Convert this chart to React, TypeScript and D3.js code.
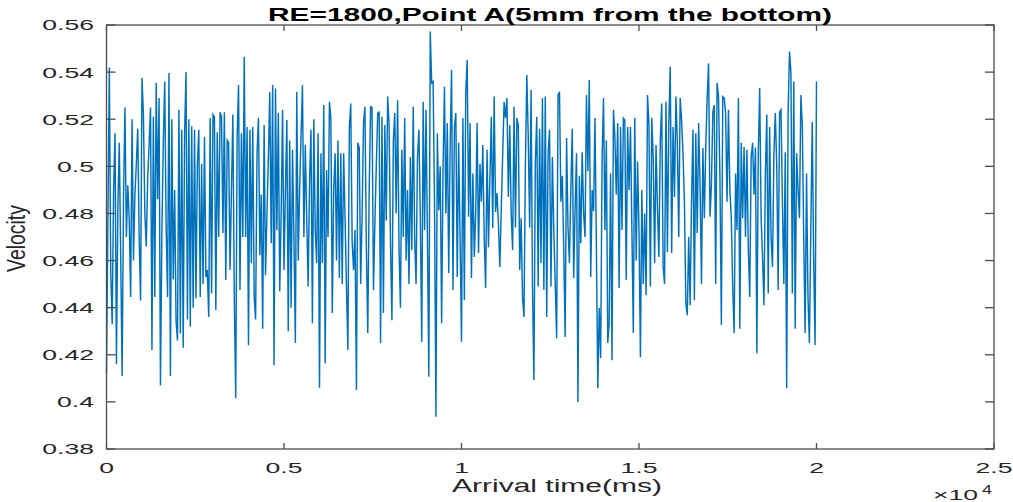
import React from "react";
import * as d3 from "d3";

// velocity samples, 40 ms apart in 2000 ms blocks
const velocity0 = [
  0.412, 0.478, 0.542, 0.455, 0.433, 0.490, 0.514, 0.416, 0.482, 0.510,
  0.462, 0.411, 0.488, 0.525, 0.470, 0.492, 0.478, 0.4445, 0.520, 0.460,
  0.488, 0.501, 0.516, 0.470, 0.443, 0.5375, 0.522, 0.480, 0.466, 0.495,
  0.509, 0.525, 0.422, 0.521, 0.4445, 0.5355, 0.486, 0.529, 0.407, 0.472,
  0.510, 0.536, 0.475, 0.4445, 0.5396, 0.411, 0.520, 0.452, 0.490, 0.434,
];
const velocity1 = [
  0.426, 0.524, 0.429, 0.5155, 0.423, 0.514, 0.540, 0.435, 0.520, 0.432,
  0.517, 0.440, 0.5155, 0.444, 0.501, 0.5155, 0.4445, 0.501, 0.450, 0.5125,
  0.453, 0.456, 0.436, 0.5205, 0.446, 0.522, 0.521, 0.439, 0.5145, 0.470,
  0.523, 0.521, 0.4717, 0.523, 0.4517, 0.511, 0.510, 0.456, 0.490, 0.522,
  0.444, 0.4016, 0.513, 0.5345, 0.4475, 0.514, 0.470, 0.5465, 0.470, 0.5167,
];
const velocity2 = [
  0.424, 0.5155, 0.459, 0.5167, 0.4445, 0.435, 0.5055, 0.5205, 0.4623, 0.488,
  0.431, 0.5175, 0.4538, 0.480, 0.504, 0.5315, 0.4675, 0.5345, 0.4156, 0.533,
  0.473, 0.5226, 0.447, 0.480, 0.524, 0.456, 0.490, 0.5197, 0.430, 0.511,
  0.440, 0.507, 0.470, 0.425, 0.5317, 0.460, 0.490, 0.513, 0.5345, 0.470,
  0.509, 0.478, 0.449, 0.494, 0.5155, 0.4334, 0.520, 0.473, 0.459, 0.514,
];
const velocity3 = [
  0.406, 0.5055, 0.459, 0.526, 0.4164, 0.4984, 0.470, 0.5274, 0.5205, 0.4377,
  0.490, 0.5055, 0.460, 0.511, 0.4526, 0.5055, 0.450, 0.5055, 0.478, 0.449,
  0.422, 0.516, 0.5267, 0.468, 0.456, 0.473, 0.405, 0.510, 0.5078, 0.450,
  0.479, 0.5184, 0.5253, 0.4657, 0.4292, 0.490, 0.5253, 0.525, 0.4475, 0.476,
  0.500, 0.5226, 0.523, 0.425, 0.521, 0.4377, 0.5175, 0.477, 0.5296, 0.5175,
];
const velocity4 = [
  0.4674, 0.4347, 0.511, 0.5226, 0.480, 0.528, 0.4657, 0.440, 0.507, 0.470,
  0.5205, 0.460, 0.490, 0.450, 0.504, 0.4645, 0.5253, 0.470, 0.450, 0.504,
  0.5155, 0.478, 0.4254, 0.5274, 0.473, 0.524, 0.470, 0.4107, 0.5572, 0.5354,
  0.536, 0.4844, 0.3937, 0.514, 0.4814, 0.500, 0.4334, 0.4984, 0.5338, 0.480,
  0.5184, 0.4547, 0.5082, 0.5409, 0.4475, 0.5167, 0.5226, 0.453, 0.510, 0.470,
];
const velocity5 = [
  0.4255, 0.5205, 0.4432, 0.5317, 0.5451, 0.4786, 0.5184, 0.4526, 0.497, 0.4615,
  0.480, 0.5184, 0.4632, 0.501, 0.485, 0.509, 0.470, 0.4483, 0.507, 0.4657,
  0.495, 0.521, 0.4738, 0.5296, 0.4806, 0.4887, 0.476, 0.4573, 0.482, 0.505,
  0.5274, 0.5205, 0.529, 0.487, 0.5175, 0.480, 0.4645, 0.5253, 0.474, 0.5205,
  0.5175, 0.456, 0.478, 0.444, 0.436, 0.501, 0.5388, 0.5125, 0.474, 0.5324,
];
const velocity6 = [
  0.449, 0.4093, 0.5018, 0.521, 0.449, 0.516, 0.459, 0.529, 0.4475, 0.5296,
  0.436, 0.5055, 0.5155, 0.449, 0.504, 0.473, 0.450, 0.427, 0.5303, 0.5317,
  0.485, 0.496, 0.465, 0.4275, 0.512, 0.474, 0.459, 0.490, 0.516, 0.4526,
  0.482, 0.5055, 0.400, 0.496, 0.4674, 0.506, 0.480, 0.470, 0.5303, 0.498,
  0.5366, 0.453, 0.490, 0.481, 0.5205, 0.465, 0.4058, 0.440, 0.4186, 0.5027,
];
const velocity7 = [
  0.529, 0.473, 0.511, 0.425, 0.4334, 0.497, 0.4177, 0.524, 0.5125, 0.488,
  0.5184, 0.4483, 0.5167, 0.473, 0.5205, 0.5197, 0.4517, 0.5167, 0.490, 0.5167,
  0.473, 0.4292, 0.5205, 0.460, 0.502, 0.473, 0.419, 0.490, 0.450, 0.480,
  0.4453, 0.5303, 0.5175, 0.449, 0.5205, 0.504, 0.459, 0.509, 0.482, 0.4615,
  0.511, 0.5267, 0.4573, 0.450, 0.5274, 0.4636, 0.5184, 0.5423, 0.4632, 0.5167,
];
const velocity8 = [
  0.487, 0.5296, 0.510, 0.470, 0.529, 0.5197, 0.505, 0.4844, 0.442, 0.4368,
  0.470, 0.441, 0.485, 0.5155, 0.4432, 0.514, 0.4717, 0.5184, 0.492, 0.450,
  0.5078, 0.478, 0.508, 0.529, 0.5437, 0.4786, 0.492, 0.523, 0.526, 0.450,
  0.5354, 0.5296, 0.495, 0.4326, 0.5296, 0.529, 0.5226, 0.485, 0.524, 0.490,
  0.478, 0.449, 0.4292, 0.497, 0.473, 0.529, 0.431, 0.510, 0.478, 0.5082,
];
const velocity9 = [
  0.470, 0.507, 0.4645, 0.4445, 0.504, 0.510, 0.488, 0.508, 0.4207, 0.5055,
  0.5332, 0.478, 0.4615, 0.441, 0.497, 0.522, 0.446, 0.5167, 0.470, 0.4573,
  0.505, 0.5226, 0.500, 0.4475, 0.523, 0.524, 0.485, 0.450, 0.506, 0.4058,
  0.523, 0.5487, 0.5396, 0.446, 0.536, 0.431, 0.5055, 0.490, 0.478, 0.5303,
  0.5175, 0.470, 0.4292, 0.497, 0.4445, 0.425, 0.473, 0.5188, 0.460, 0.4241,
  0.536,
];

const sampleStep = 40; // ms
const xTicks = [0, 5000, 10000, 15000, 20000, 25000];
const xTickLabels = ["0", "0.5", "1", "1.5", "2", "2.5"];
const yTicks = [0.38, 0.4, 0.42, 0.44, 0.46, 0.48, 0.5, 0.52, 0.54, 0.56];
const yTickLabels = ["0.38", "0.4", "0.42", "0.44", "0.46", "0.48", "0.5", "0.52", "0.54", "0.56"];

const W = 1013;
const H = 502;
const margin = { top: 25, right: 19, bottom: 53, left: 106.5 };
const axisColor = "#4d4d4d";
const labelColor = "#262626";
const font = "'Liberation Sans', Arial, Helvetica, sans-serif";

export default function App() {
  const velocity = [
    ...velocity0, ...velocity1, ...velocity2, ...velocity3, ...velocity4,
    ...velocity5, ...velocity6, ...velocity7, ...velocity8, ...velocity9,
  ];
  const data = velocity.map((v, i) => ({ t: i * sampleStep, v }));

  const x = d3.scaleLinear().domain([0, 25000]).range([margin.left, W - margin.right]);
  const y = d3.scaleLinear().domain([0.38, 0.56]).range([H - margin.bottom, margin.top]);

  const line = d3.line<{ t: number; v: number }>()
    .x((d) => x(d.t))
    .y((d) => y(d.v));

  const x0 = x.range()[0], x1 = x.range()[1];
  const y0 = y.range()[0], y1 = y.range()[1];

  return (
    <svg width={W} height={H} style={{ position: "absolute", left: 0, top: 0, background: "#fff" }}
      fontFamily={font}>
      <path d={line(data) || ""} fill="none" stroke="#0072BD" strokeWidth={1.45} strokeLinejoin="miter" />

      {/* box */}
      <rect x={x0} y={y1} width={x1 - x0} height={y0 - y1} fill="none" stroke={axisColor} strokeWidth={1.3} />

      {/* x ticks */}
      {xTicks.map((t, i) => (
        <g key={"xt" + i}>
          <line x1={x(t)} x2={x(t)} y1={y0} y2={y0 - 6} stroke={axisColor} strokeWidth={1.3} />
          <line x1={x(t)} x2={x(t)} y1={y1} y2={y1 + 6} stroke={axisColor} strokeWidth={1.3} />
          <g transform={`translate(${x(t)},472.5) scale(1.77,1)`}>
            <text textAnchor="middle" fontSize={15} fill={labelColor}>{xTickLabels[i]}</text>
          </g>
        </g>
      ))}

      {/* y ticks */}
      {yTicks.map((t, i) => (
        <g key={"yt" + i}>
          <line x1={x0} x2={x0 + 9} y1={y(t)} y2={y(t)} stroke={axisColor} strokeWidth={1.3} />
          <line x1={x1} x2={x1 - 9} y1={y(t)} y2={y(t)} stroke={axisColor} strokeWidth={1.3} />
          <g transform={`translate(94,${y(t) + 5.4}) scale(1.77,1)`}>
            <text textAnchor="end" fontSize={15} fill={labelColor}>{yTickLabels[i]}</text>
          </g>
        </g>
      ))}

      {/* exponent */}
      <text x={933} y={500} fontSize={15} fill={labelColor} textLength={45} lengthAdjust="spacingAndGlyphs">×10</text>
      <text x={982} y={494} fontSize={12} fill={labelColor} textLength={10} lengthAdjust="spacingAndGlyphs">4</text>

      {/* title */}
      <text x={268} y={21} fontSize={19} fontWeight="bold" fill="#000" textLength={564} lengthAdjust="spacingAndGlyphs">
        RE=1800,Point A(5mm from the bottom)
      </text>

      {/* axis labels */}
      <text x={452} y={491.5} fontSize={18} fill={labelColor} textLength={210} lengthAdjust="spacingAndGlyphs">
        Arrival time(ms)
      </text>
      <text transform="translate(25,272) rotate(-90)" x={0} y={0} fontSize={25} fill={labelColor}
        textLength={67} lengthAdjust="spacingAndGlyphs">
        Velocity
      </text>
    </svg>
  );
}
